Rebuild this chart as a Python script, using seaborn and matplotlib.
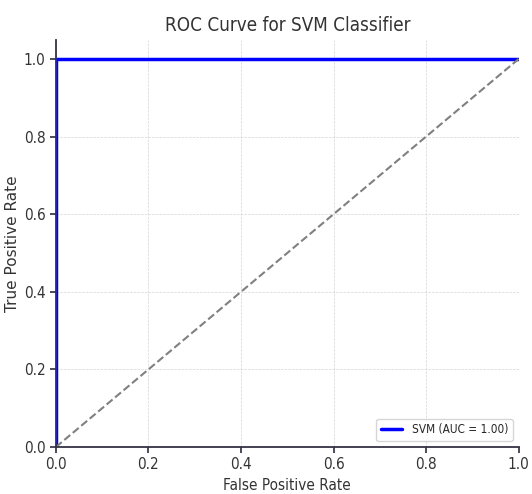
import numpy as np
import pandas as pd
import matplotlib
matplotlib.use("Agg")
import matplotlib.pyplot as plt
import seaborn as sns

# ROC curve values
fpr = [0.0, 0.0, 1.0]
tpr = [0.0, 1.0, 1.0]
chance = [0.0, 1.0]
auc_label = "SVM (AUC = 1.00)"

sns.set_theme(style="whitegrid")
plt.rcParams['font.family'] = ['DejaVu Sans']
plt.rcParams['font.stretch'] = 'condensed'

fig, ax = plt.subplots(figsize=(5.32, 4.94), dpi=100)

roc_df = pd.DataFrame({"fpr": fpr, "tpr": tpr})
sns.lineplot(data=roc_df, x="fpr", y="tpr", ax=ax, color="blue", lw=2.5,
             label=auc_label, sort=False, estimator=None)
ax.plot(chance, chance, color="gray", linestyle="--", lw=1.5)

ax.set_xlim(0.0, 1.0)
ax.set_ylim(0.0, 1.05)
ax.set_title("ROC Curve for SVM Classifier", fontsize=13.5, color="#333333")
ax.set_xlabel("False Positive Rate", fontsize=11, color="#333333")
ax.set_ylabel("True Positive Rate", fontsize=11, color="#333333",
              fontstretch="normal")
ax.yaxis.set_label_coords(-0.078, 0.5)
ax.tick_params(axis="both", labelsize=11, colors="#333333", length=4,
               color="#333344", left=True, bottom=True)
ax.grid(True, linestyle="--", linewidth=0.5, color="#d5d5d5")

for side in ["top", "right"]:
    ax.spines[side].set_visible(False)
for side in ["left", "bottom"]:
    ax.spines[side].set_color("#333344")
    ax.spines[side].set_linewidth(1.3)
    ax.spines[side].set_zorder(5)

ax.legend(loc="lower right", fontsize=8.5, frameon=True, handlelength=1.8)

fig.subplots_adjust(left=0.105, right=0.975, top=0.92, bottom=0.095)
fig.savefig("out.png", dpi=100)
